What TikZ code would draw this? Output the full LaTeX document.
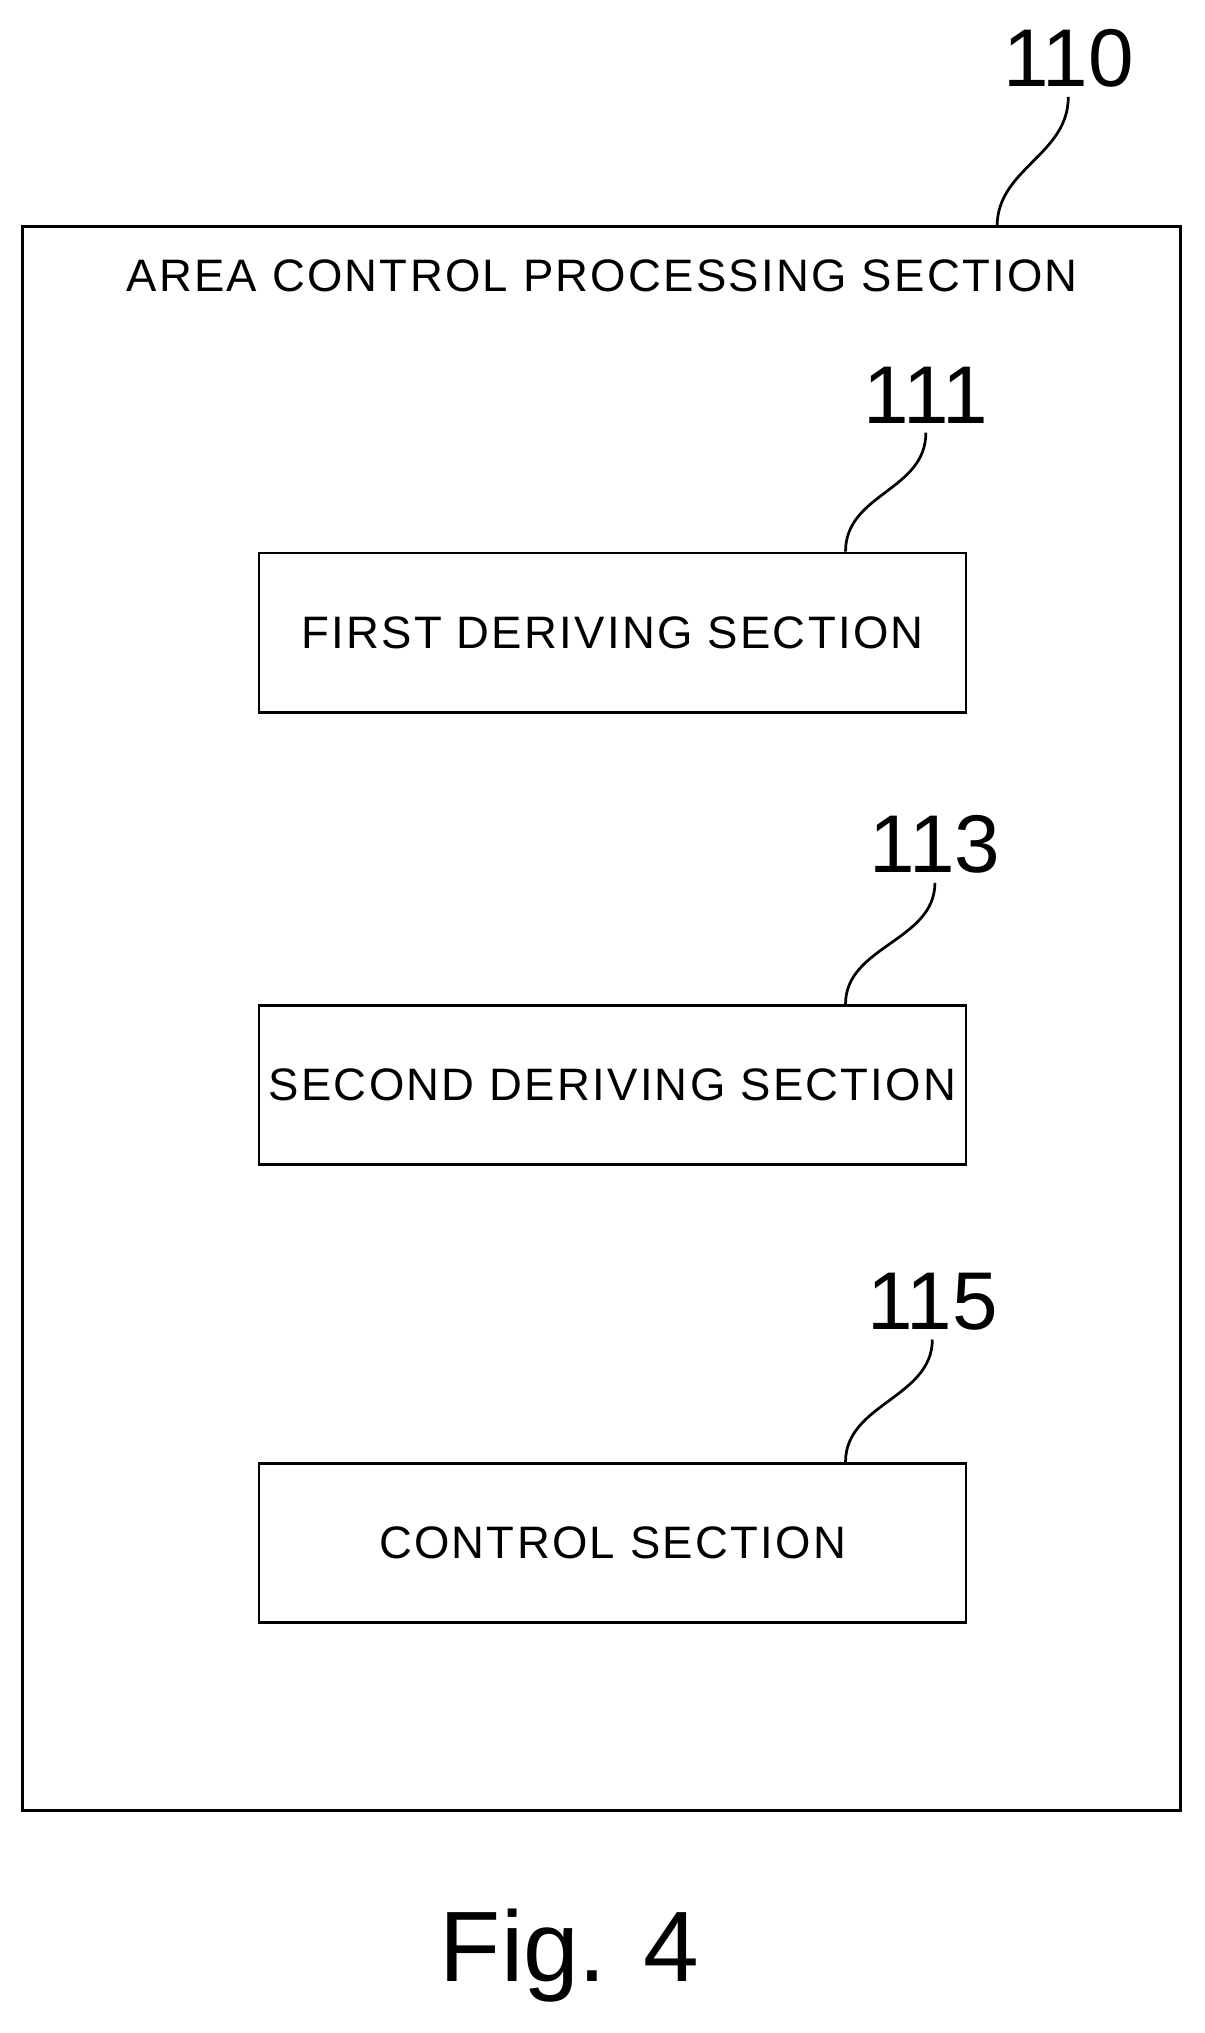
\documentclass[tikz,border=0pt]{standalone}
\usepackage{fontspec}
\setmainfont{Liberation Sans}
\newfontfamily\spacedfont[LetterSpace=5]{Liberation Sans}
\tikzset{
  secbox/.style={draw, line width=1.2pt, minimum width=10.92cm, minimum height=2.46cm, inner xsep=1pt, font=\spacedfont\fontsize{20}{24}\selectfont},
  refnum/.style={font=\fontsize{36}{40}\selectfont, inner sep=4pt},
  leader/.style={line width=1.2pt}
}
\begin{document}
\begin{tikzpicture}[x=0.02cm,y=-0.02cm]
\useasboundingbox (0,0) rectangle (930,1570);
% outer section
\node[draw, line width=1.4pt, minimum width=17.9cm, minimum height=24.46cm, inner sep=0pt] (area) at (464.5,786.5) {};
\node[font=\spacedfont\fontsize{20}{24}\selectfont] (title) at (465,213) {AREA CONTROL PROCESSING SECTION};
\node[refnum] (n110) at (825,45) {110};
\coordinate (a110) at (770,175);
\draw[leader] (a110) .. controls +(0,-45) and +(0,45) .. (n110.south);
% inner sections
\node[secbox] (first) at (473,488.5) {FIRST DERIVING SECTION};
\node[secbox] (second) at (473,838) {SECOND DERIVING SECTION};
\node[secbox] (ctrl) at (473,1191.5) {CONTROL SECTION};
\node[refnum] (n111) at (715,305) {111};
\node[refnum] (n113) at (722,652) {113};
\node[refnum] (n115) at (720,1005) {115};
\foreach \b/\n in {first/n111, second/n113, ctrl/n115}{
  \draw[leader] ([xshift=3.6cm]\b.north) .. controls +(0,-45) and +(0,45) .. (\n.south);
}
\node[font=\fontsize{44}{48}\selectfont] (fig) at (440,1510) {Fig. 4};
\end{tikzpicture}
\end{document}
